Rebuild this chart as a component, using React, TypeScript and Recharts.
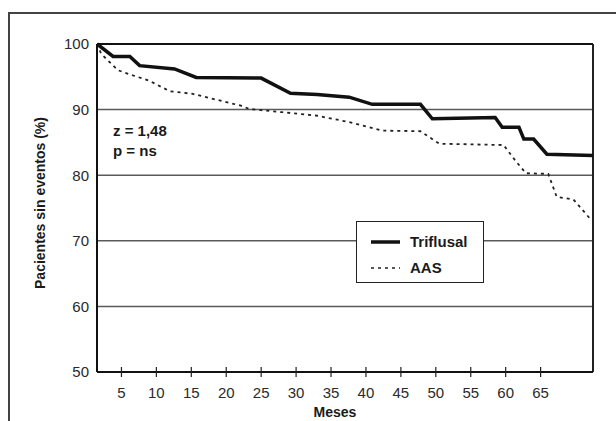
import React from 'react';
import { LineChart, Line, XAxis, YAxis, CartesianGrid, ReferenceLine } from 'recharts';

// Kaplan-Meier style curves: [month, % without events]
const triflusalMonths = [1.5, 3.8, 6.2, 7.6, 12.6, 15.7, 25, 29.2, 33, 37.6, 40.9, 47.8, 49.5, 58.5, 59.5, 61.9, 62.6, 64, 65.9, 72.5];
const triflusalValues = [100, 98.1, 98.1, 96.7, 96.2, 94.9, 94.8, 92.5, 92.3, 91.9, 90.8, 90.8, 88.6, 88.8, 87.3, 87.3, 85.5, 85.5, 83.2, 83.0];

const aasMonths = [1.5, 2.1, 4.5, 6.4, 9, 11.9, 15.2, 22.1, 23.3, 28, 32.8, 37.6, 42.3, 47.8, 50.5, 59.7, 61.4, 62.9, 66.1, 67.3, 69.7, 72.3];
const aasValues = [100, 98.5, 96.0, 95.3, 94.4, 92.8, 92.4, 90.6, 90.1, 89.6, 89.1, 88.1, 86.8, 86.7, 84.8, 84.6, 82.2, 80.3, 80.2, 76.7, 76.3, 73.1];

const xTicks = [5, 10, 15, 20, 25, 30, 35, 40, 45, 50, 55, 60, 65];
const yTicks = [50, 60, 70, 80, 90, 100];

const seriesNames = ['Triflusal', 'AAS'];
const annotationLines = ['z = 1,48', 'p = ns'];
const xLabel = 'Meses';
const yLabel = 'Pacientes sin eventos (%)';

const triflusalData = triflusalMonths.map((m, i) => ({ mes: m, valor: triflusalValues[i] }));
const aasData = aasMonths.map((m, i) => ({ mes: m, valor: aasValues[i] }));

const FONT = '"Liberation Sans", Arial, Helvetica, sans-serif';

const XTick = (props: any) => {
  const { x, y, payload } = props;
  return (
    <g>
      <line x1={x} x2={x} y1={y - 5} y2={y + 5} stroke="#222" strokeWidth={1.2} />
      <text x={x} y={y + 26} textAnchor="middle" fill="#2a2a2a" fontSize={15} fontFamily={FONT}>
        {payload.value}
      </text>
    </g>
  );
};

export default function App() {
  return (
    <div style={{ position: 'absolute', left: 0, top: 0, width: 616, height: 421, background: '#fff', overflow: 'hidden' }}>
      <div
        style={{
          position: 'absolute',
          left: 8,
          top: 12,
          width: 640,
          height: 440,
          borderLeft: '2px solid #444',
          borderTop: '2px solid #444',
        }}
      />
      <div style={{ position: 'absolute', left: 0, top: 0 }}>
        <LineChart width={616} height={421} margin={{ top: 44, right: 23, bottom: 0, left: 0 }}>
          <CartesianGrid vertical={false} stroke="#5a5a5a" strokeWidth={1.5} />
          <XAxis
            dataKey="mes"
            type="number"
            domain={[1.5, 72.5]}
            ticks={xTicks}
            allowDataOverflow
            height={49}
            tickSize={0}
            tickMargin={0}
            tickLine={false}
            tick={<XTick />}
            axisLine={{ stroke: '#111', strokeWidth: 2 }}
          />
          <YAxis
            type="number"
            domain={[50, 100]}
            ticks={yTicks}
            width={97}
            tickLine={false}
            tickSize={8}
            tickMargin={0}
            tick={{ fill: '#2a2a2a', fontSize: 15, fontFamily: FONT }}
            axisLine={{ stroke: '#111', strokeWidth: 2 }}
          />
          <ReferenceLine y={100} stroke="#111" strokeWidth={2} />
          <ReferenceLine x={72.5} stroke="#222" strokeWidth={2} />
          <Line
            data={triflusalData}
            dataKey="valor"
            name={seriesNames[0]}
            type="linear"
            stroke="#111"
            strokeWidth={3.5}
            dot={false}
            isAnimationActive={false}
          />
          <Line
            data={aasData}
            dataKey="valor"
            name={seriesNames[1]}
            type="linear"
            stroke="#222"
            strokeWidth={1.8}
            strokeDasharray="3 4"
            dot={false}
            isAnimationActive={false}
          />
        </LineChart>
      </div>
      <div
        style={{
          position: 'absolute',
          left: 356,
          top: 221,
          width: 126,
          height: 60,
          border: '1.5px solid #222',
          background: '#fff',
        }}
      >
        <svg width={126} height={60} style={{ position: 'absolute', left: 0, top: 0 }}>
          <line x1={14} x2={43} y1={20} y2={20} stroke="#111" strokeWidth={3.5} />
          <text x={53} y={25} fontSize={15} fontWeight={700} fill="#1a1a1a" fontFamily={FONT}>{seriesNames[0]}</text>
          <line x1={14} x2={43} y1={46} y2={46} stroke="#222" strokeWidth={1.5} strokeDasharray="3 4" />
          <text x={53} y={51} fontSize={15} fontWeight={700} fill="#1a1a1a" fontFamily={FONT}>{seriesNames[1]}</text>
        </svg>
      </div>
      <svg width={616} height={421} style={{ position: 'absolute', left: 0, top: 0, pointerEvents: 'none' }}>
        <text x={113} y={136} fontSize={15} fontWeight={700} fill="#1a1a1a" fontFamily={FONT}>{annotationLines[0]}</text>
        <text x={113} y={156} fontSize={15} fontWeight={700} fill="#1a1a1a" fontFamily={FONT}>{annotationLines[1]}</text>
        <text
          x={0}
          y={0}
          transform="translate(45, 203) rotate(-90)"
          textAnchor="middle"
          fontSize={14}
          fontWeight={700}
          fill="#1a1a1a"
          fontFamily={FONT}
        >
          {yLabel}
        </text>
        <text x={335} y={417} textAnchor="middle" fontSize={14} fontWeight={700} fill="#1a1a1a" fontFamily={FONT}>
          {xLabel}
        </text>
      </svg>
    </div>
  );
}
